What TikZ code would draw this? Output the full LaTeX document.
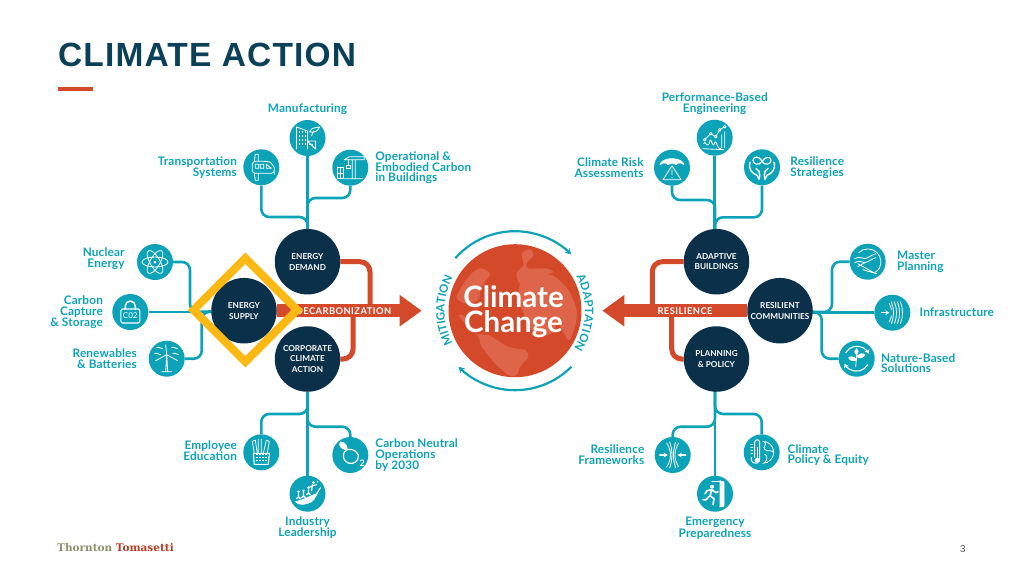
\documentclass[tikz,border=0pt]{standalone}
\usepackage{fontspec}
\setmainfont{Lato}
\newfontfamily\titlefont{Liberation Sans}
\newfontfamily\logofont{DejaVu Serif}
\usepackage{tikz}
\usetikzlibrary{arrows.meta, positioning, calc, backgrounds, shapes.geometric, decorations.text}

\definecolor{navy}{HTML}{0B3049}
\definecolor{titleblue}{HTML}{0A4058}
\definecolor{aqua}{HTML}{0CA3B9}
\definecolor{brick}{HTML}{D4492A}
\definecolor{land}{HTML}{DE6549}
\definecolor{gold}{HTML}{FDB913}

\tikzset{
	iconline/.style = {draw=white, line width=.8pt, line cap=round, line join=round},
	pics/atomicon/.style = {code={
		\draw[iconline] (0,0) ellipse[x radius=13, y radius=5];
		\draw[iconline, rotate=60] (0,0) ellipse[x radius=13, y radius=5];
		\draw[iconline, rotate=-60] (0,0) ellipse[x radius=13, y radius=5];
		\fill[white] (0,0) circle (1.5);
	}},
	pics/lockicon/.style = {code={
		\draw[iconline, line width=1.5pt] (-5,3) -- (-5,6) arc[start angle=180, end angle=0, radius=5] -- (5,3);
		\draw[iconline, line width=1.1pt, rounded corners=1.5] (-9.5,-11) rectangle (9.5,3);
		\node[text=white, font=\fontsize{8}{8}\selectfont, inner sep=0] (cotwo) at (0,-4) {C02};
	}},
	pics/windicon/.style = {code={
		\draw[iconline] (-1,-13) -- (0,4) -- (1,-13) (-5,-13) -- (5,-13);
		\draw[iconline] (0,4) -- (-1,14) (0,4) -- (-11,-2) (0,4) -- (11,-2);
		\draw[iconline] (-10,11) .. controls (-7,13) and (-6,9) .. (-4,10) (5,11) .. controls (8,13) and (9,9) .. (11,10) (-12,5) .. controls (-9,7) and (-8,3) .. (-6,4) (6,5) .. controls (9,7) and (10,3) .. (12,4);
	}},
	pics/buildingicon/.style = {code={
		\draw[iconline] (-11,-11) -- (-11,11) -- (0,7) -- (0,-11) (0,-3) -- (8,-3) -- (8,-11) -- cycle;
		\foreach \wx in {-8,-5,-2} \foreach \wy in {-6,-2,2,6}
			\fill[white] (\wx-.8,\wy-.8) rectangle ++(1.7,1.7);
		\foreach \wx in {2.5,5} \fill[white] (\wx-.7,-7) rectangle ++(1.5,1.5);
		\draw[iconline] (2,6) .. controls (4,11) and (8,10) .. (12,11) .. controls (11,7) and (7,5) .. (2,6) (4,2) -- (6,7);
	}},
	pics/trainicon/.style = {code={
		\draw[iconline, rounded corners=3] (-9,6) -- (5,6) .. controls (10,5) and (13,0) .. (13,-4) -- (13,-6) -- (-9,-6) -- cycle;
		\draw[iconline] (-7,6) -- (-6,13) -- (-3,13) -- (-3,6) (-7,-6) -- (-6,-13) -- (-3,-13) -- (-3,-6);
		\draw[iconline] (-6,-1) rectangle (-2.5,3) (-1,-1) rectangle (2.5,3) (5,3) -- (10,-1) -- (5,-1) -- cycle;
	}},
	pics/craneicon/.style = {code={
		\draw[iconline] (2,-11) -- (2,8) (5,-11) -- (5,8) (-6,-11) -- (12,-11) (-6,8) -- (14,8) -- (14,11) -- (-1,11) -- (-6,8);
		\draw[iconline] (-2,8) -- (-2,2) (-4,2) rectangle (0,-1);
		\draw[iconline] (-13,-11) rectangle (-7,0) (-13,-5.5) -- (-7,-5.5) (-10,-11) -- (-10,0);
	}},
	pics/charticon/.style = {code={
		\draw[iconline] (-10,-2) -- (-4,4) -- (1,1) -- (5,8) -- (10,11);
		\foreach \dotx/\doty in {-10/-2,-4/4,1/1,5/8,10/11}
			\filldraw[iconline, fill=aqua] (\dotx,\doty) circle (1.3);
		\draw[iconline] (-11,-6) .. controls (-10,-1) and (-7,-13) .. (-5,-4) .. controls (-4,3) and (-2,-13) .. (0,-5) .. controls (1,0) and (3,-13) .. (6,-11) (7,-10) -- (7,3) (10,-10) -- (10,6) (-12,-11) -- (9,-12);
	}},
	pics/umbrellaicon/.style = {code={
		\filldraw[iconline, fill=white] (-12,3) .. controls (-10,11) and (10,11) .. (12,3) .. controls (9,5.5) and (6,5.5) .. (4,3) .. controls (2,5) and (-2,5) .. (-4,3) .. controls (-6,5.5) and (-9,5.5) .. (-12,3);
		\draw[iconline] (0,2) -- (-9,-12) -- (9,-12) -- cycle (0,-2) -- (0,-7) (0,-9.5) -- (0,-10);
	}},
	pics/handsicon/.style = {code={
		\draw[iconline, line width=1.2pt] (0,6) .. controls (-3,12) and (-9,11) .. (-9,7) .. controls (-9,3) and (-3,1) .. (0,6) .. controls (3,11) and (9,11) .. (9,7) .. controls (9,3) and (3,1) .. (0,6);
		\draw[iconline, line width=1.4pt] (-12,5) .. controls (-14,-2) and (-10,-6) .. (-5,-8) -- (-3,-12) (-3,-4) -- (-6,-1) (-3,-4) .. controls (-2,-7) and (-2,-9) .. (-3,-12);
		\draw[iconline, line width=1.4pt] (12,5) .. controls (14,-2) and (10,-6) .. (5,-8) -- (3,-12) (3,-4) -- (6,-1) (3,-4) .. controls (2,-7) and (2,-9) .. (3,-12);
	}},
	pics/planicon/.style = {code={
		\draw[iconline] (-9,9) arc[start angle=135, end angle=-30, radius=13];
		\draw[iconline] (12,-6) arc[start angle=-30, end angle=-60, radius=13];
		\draw[iconline] (-13,3) .. controls (-8,7) and (-4,1) .. (0,4) .. controls (3,6) and (5,7) .. (8,8);
		\draw[iconline] (-13,-1) .. controls (-8,3) and (-4,-3) .. (0,0) .. controls (3,2) and (5,3) .. (8,4);
		\draw[iconline] (-10,-2) -- (8,-12) (-5,-8) -- (9,-12) (-10,-5) -- (-3,-1);
	}},
	pics/wallicon/.style = {code={
		\draw[iconline, line width=1.2pt, -{Stealth[length=4pt,width=5pt]}] (-11,0) -- (-3,0);
		\foreach \wx in {0,3,6,9}
			\draw[iconline] (\wx-1,11) .. controls (\wx+2,4) and (\wx+2,-4) .. (\wx-1,-11);
		\draw[iconline] (-3,9) .. controls (-1,5) and (-1,4) .. (-1,3) (-3,-9) .. controls (-1,-5) and (-1,-4) .. (-1,-3);
	}},
	pics/planticon/.style = {code={
		\draw[iconline, line width=1.1pt, -{Stealth[length=4pt,width=5pt]}] (-11,6) arc[start angle=150, end angle=25, radius=13];
		\draw[iconline, line width=1.1pt, -{Stealth[length=4pt,width=5pt]}] (11,-6) arc[start angle=-30, end angle=-155, radius=13];
		\draw[iconline] (-1,-8) -- (0,4);
		\filldraw[iconline, fill=white] (0,-1) .. controls (-3,3) and (-7,2) .. (-8,1) .. controls (-7,-2) and (-3,-3) .. (0,-1);
		\filldraw[iconline, fill=white] (0,2) .. controls (3,6) and (7,5) .. (8,4) .. controls (7,1) and (3,0) .. (0,2);
		\filldraw[iconline, fill=white] (0,4) .. controls (-3,6) and (-2,9) .. (0,10) .. controls (2,9) and (2,6) .. (0,4);
	}},
	pics/pinchicon/.style = {code={
		\draw[iconline] (-6,12) .. controls (-1,4) and (-1,-4) .. (-6,-12) (6,12) .. controls (1,4) and (1,-4) .. (6,-12);
		\draw[iconline] (-3,13) .. controls (0,4) and (0,-4) .. (-3,-13) (3,13) .. controls (0,4) and (0,-4) .. (3,-13);
		\draw[iconline, line width=1.2pt, -{Stealth[length=4pt,width=5pt]}] (-13,0) -- (-5,0);
		\draw[iconline, line width=1.2pt, -{Stealth[length=4pt,width=5pt]}] (13,0) -- (5,0);
	}},
	pics/thermoicon/.style = {code={
		\draw[iconline, line width=1pt] (-7,-5) -- (-7,10) arc[start angle=180, end angle=0, radius=2.5] -- (-2,-5) arc[start angle=20, end angle=-200, radius=4.5];
		\fill[white] (-4.5,-8) circle (2.5);
		\draw[iconline] (-4.5,-8) -- (-4.5,5);
		\draw[iconline] (-11,8) -- (-9,8) (-11,5) -- (-9,5) (-11,2) -- (-9,2) (-11,-1) -- (-9,-1);
		\draw[iconline] (1,11) arc[start angle=90, end angle=-90, radius=11] (2,11) .. controls (7,8) and (0,5) .. (3,3) .. controls (5,0) and (10,3) .. (12,0) (3,-2) .. controls (6,-3) and (6,-8) .. (3,-10);
	}},
	pics/exiticon/.style = {code={
		\draw[iconline, line width=1.1pt] (-3,12) -- (8,12) -- (8,-13) -- (5,-13);
		\filldraw[iconline, fill=white] (5,13) -- (9,11) -- (9,-12) -- (5,-13) -- cycle;
		\fill[white] (-3,7) circle (2);
		\draw[iconline, line width=1.6pt] (-3,4) -- (-5,-2) -- (-1,-5) -- (-2,-11) (-5,-2) -- (-9,-6) -- (-12,-6) (-3,4) -- (1,1) -- (3,2) (-3,4) -- (-8,3) -- (-10,0);
	}},
	pics/cupicon/.style = {code={
		\draw[iconline, line width=1.1pt] (-8,-1) -- (8,-1) -- (7,-12) -- (-7,-12) -- cycle;
		\foreach \wx in {-4,-1,2,5} \foreach \wy in {-9,-6,-3}
			\fill[white] (\wx-.9,\wy) rectangle ++(1.7,1.5);
		\draw[iconline] (-7,-1) -- (-9,11) -- (-6,12) -- (-4,-1) (-3,-1) -- (-3,13) (0,-1) -- (0,13) (2,-1) -- (5,12) -- (8,11) -- (6,-1);
	}},
	pics/neutralicon/.style = {code={
		\draw[iconline, line width=1.2pt] (-6,3) .. controls (-3,8) and (6,6) .. (8,0) .. controls (9,-6) and (3,-10) .. (-2,-8) .. controls (-7,-6) and (-8,-1) .. (-6,3);
		\filldraw[iconline, fill=white] (-3,5) .. controls (-9,6) and (-12,9) .. (-10,13) .. controls (-5,13) and (-3,9) .. (-3,5);
		\node[text=white, font=\bfseries\fontsize{9}{9}\selectfont, inner sep=0] (subtwo) at (12,-8) {2};
	}},
	pics/climbicon/.style = {code={
		\filldraw[iconline, fill=white] (-12,-8) .. controls (-6,-7) and (4,-2) .. (9,0) -- (13,6) .. controls (10,2) and (8,-5) .. (4,-8) .. controls (-2,-11) and (-8,-12) .. (-12,-8);
		\foreach \manx/\many in {-9/-5,-4/-4,1/-1} {
			\fill[white] (\manx,\many+7) circle (1.4);
			\draw[iconline, line width=1.2pt] (\manx,\many+5) -- (\manx,\many+1) (\manx-2,\many) -- (\manx,\many+2) -- (\manx+2,\many);
		}
		\fill[white] (6,11) circle (1.5);
		\draw[iconline, line width=1.2pt] (5,9) -- (4,3) (5,8) -- (9,9) (5,8) -- (1,6);
		\fill[white] (10,12) circle (.8);
	}},
	hubnode/.style = {circle, fill=navy, text=white, minimum size=65.5, inner sep=0, align=center,
		font=\bfseries\fontsize{8.2}{10.7}\selectfont},
	topic/.style = {circle, fill=aqua, minimum size=36, inner sep=0},
	topiclabel/.style = {text=aqua, inner sep=0, font=\bfseries\fontsize{11.8}{10.8}\selectfont\addfontfeature{LetterSpace=1.2}},
	branch/.style = {draw=aqua, line width=2.6pt, rounded corners=8},
	redbranch/.style = {draw=brick, line width=5pt, rounded corners=10},
	bigarrow/.style = {draw=brick, line width=12.5pt, -{Triangle[length=22pt,width=30pt,fill=brick]}},
	arrowtext/.style = {text=white, inner sep=0, font=\bfseries\fontsize{9.3}{10}\selectfont\addfontfeature{LetterSpace=5}},
	cycarrow/.style = {draw=aqua, line width=2.2pt, -{Stealth[length=6pt,width=6.5pt]}},
	ringtext/.style = {decorate, decoration={text along path, text align={fit to path},
		text color=aqua, text={|\bfseries\fontsize{11.5}{12}\selectfont|#1}}}
}

\begin{document}
\begin{tikzpicture}[x=1pt, y=1pt]
	\useasboundingbox (0,0) rectangle (1024,-576);

	\node[text=titleblue, anchor=west, inner sep=0, font=\titlefont\bfseries\fontsize{33.5}{34}\selectfont\addfontfeature{LetterSpace=3.4}] (title) at (58,-55) {CLIMATE ACTION};
	\fill[brick] (58,-87) rectangle (93,-90.5);

	% the globe
	\node[circle, fill=brick, minimum size=133, inner sep=0] (globe) at (515,-310.7) {};
	\begin{scope}
		\clip (515,-310.7) circle (66.5);
		\begin{scope}[shift={(515,-310.7)}, x=.3333pt, y=-.3333pt]
			\fill[land] plot[smooth cycle] coordinates {(-150,-87) (-125,-117) (-100,-127) (-75,-112) (-90,-87) (-105,-62) (-110,-32) (-150,-22) (-175,-42)};
			\fill[land] plot[smooth cycle] coordinates {(20,-172) (45,-184) (55,-167) (35,-142) (40,-127) (90,-127) (115,-117) (90,-107) (50,-102) (15,-82) (5,-112) (25,-137)};
			\fill[land] plot[smooth cycle] coordinates {(15,-82) (50,-102) (110,-107) (160,-62) (185,-2) (180,48) (160,88) (130,38) (110,68) (60,73) (15,-22)};
			\fill[land] plot[smooth cycle] coordinates {(-170,13) (-150,18) (-120,68) (-80,73) (-20,108) (30,118) (40,138) (15,168) (5,193) (-20,193) (-60,158) (-100,108) (-110,78) (-150,38)};
		\end{scope}
	\end{scope}
	\node[text=white, inner sep=0, align=center, font=\bfseries\fontsize{29.5}{25}\selectfont] (globetext) at (513.5,-312) {Climate\\Change};

	% hubs
	\node[hubnode] (demand) at (307.5,-261.7) {ENERGY\\DEMAND};
	\node[hubnode] (supply) at (244,-310.7) {ENERGY\\SUPPLY};
	\node[hubnode] (corporate) at (307.5,-359) {CORPORATE\\CLIMATE\\ACTION};
	\node[hubnode] (adaptive) at (716.5,-261.7) {ADAPTIVE\\BUILDINGS};
	\node[hubnode] (communities) at (780,-310.7) {RESILIENT\\COMMUNITIES};
	\node[hubnode] (planning) at (716.5,-359) {PLANNING\\\& POLICY};

	% topics
	\node[topic] (manufacturing) at (307.5,-138) {};
	\node[topic] (transport) at (261.3,-167.3) {};
	\node[topic] (operational) at (350.3,-167.7) {};
	\node[topic] (nuclear) at (155,-262) {};
	\node[topic] (capture) at (130.3,-312) {};
	\node[topic] (renewables) at (166.7,-358.7) {};
	\node[topic] (employee) at (261.3,-452.3) {};
	\node[topic] (neutral) at (350.3,-455) {};
	\node[topic] (industry) at (307.5,-493.7) {};
	\node[topic] (performance) at (714.7,-137.7) {};
	\node[topic] (risk) at (672,-167.7) {};
	\node[topic] (strategies) at (762,-167.3) {};
	\node[topic] (master) at (867.7,-261.7) {};
	\node[topic] (infrastructure) at (892.3,-312.7) {};
	\node[topic] (nature) at (856.7,-358.7) {};
	\node[topic] (frameworks) at (672.7,-455) {};
	\node[topic] (policy) at (761.7,-452.3) {};
	\node[topic] (emergency) at (715,-493.7) {};

	\pic at (manufacturing) {buildingicon};
	\pic at (transport) {trainicon};
	\pic at (operational) {craneicon};
	\pic at (nuclear) {atomicon};
	\pic at (capture) {lockicon};
	\pic at (renewables) {windicon};
	\pic at (employee) {cupicon};
	\pic at (neutral) {neutralicon};
	\pic at (industry) {climbicon};
	\pic at (performance) {charticon};
	\pic at (risk) {umbrellaicon};
	\pic at (strategies) {handsicon};
	\pic at (master) {planicon};
	\pic at (infrastructure) {wallicon};
	\pic at (nature) {planticon};
	\pic at (frameworks) {pinchicon};
	\pic at (policy) {thermoicon};
	\pic at (emergency) {exiticon};

	% labels
	\node[topiclabel, above=5pt of manufacturing] (manufacturinglabel) {Manufacturing};
	\node[topiclabel, left=6pt of transport, align=right] (transportlabel) {Transportation\\Systems};
	\node[topiclabel, right=6.7pt of operational, align=left] (operationallabel) {Operational \&\\Embodied Carbon\\in Buildings};
	\node[topiclabel, left=12pt of nuclear, align=right, yshift=3pt] (nuclearlabel) {Nuclear\\Energy};
	\node[topiclabel, left=9pt of capture, align=right] (capturelabel) {Carbon\\Capture\\\& Storage};
	\node[topiclabel, left=11.5pt of renewables, align=right] (renewableslabel) {Renewables\\\& Batteries};
	\node[topiclabel, left=6pt of employee, align=right, yshift=2pt] (employeelabel) {Employee\\Education};
	\node[topiclabel, right=6.7pt of neutral, align=left] (neutrallabel) {Carbon Neutral\\Operations\\by 2030};
	\node[topiclabel, below=4.5pt of industry, align=center] (industrylabel) {Industry\\Leadership};
	\node[topiclabel, above=5pt of performance, align=center] (performancelabel) {Performance-Based\\Engineering};
	\node[topiclabel, left=10pt of risk, align=right] (risklabel) {Climate Risk\\Assessments};
	\node[topiclabel, right=10pt of strategies, align=left] (strategieslabel) {Resilience\\Strategies};
	\node[topiclabel, right=11pt of master, align=left] (masterlabel) {Master\\Planning};
	\node[topiclabel, right=9pt of infrastructure] (infrastructurelabel) {Infrastructure};
	\node[topiclabel, right=6pt of nature, align=left, yshift=-4.5pt] (naturelabel) {Nature-Based\\Solutions};
	\node[topiclabel, left=10pt of frameworks, align=right] (frameworkslabel) {Resilience\\Frameworks};
	\node[topiclabel, right=7.5pt of policy, align=left, yshift=-2.7pt] (policylabel) {Climate\\Policy \& Equity};
	\node[topiclabel, below=4.5pt of emergency, align=center] (emergencylabel) {Emergency\\Preparedness};

	\coordinate (decarbtip) at (421.7,-310.7);
	\coordinate (resiltip) at (602.3,-310.7);
	\coordinate (demandjoin) at (370,-310.7);
	\coordinate (corporatejoin) at (353,-310.7);
	\coordinate (adaptivejoin) at (652.3,-310.7);
	\coordinate (planningjoin) at (671.7,-310.7);
	\coordinate (transportjoin) at (307.5,-217);
	\coordinate (operationaljoin) at (307.5,-198);
	\coordinate (employeejoin) at (307.5,-414);
	\coordinate (neutraljoin) at (307.5,-426.7);
	\coordinate (riskjoin) at (715,-200);
	\coordinate (strategiesjoin) at (715,-217.3);
	\coordinate (frameworksjoin) at (715,-426.7);
	\coordinate (policyjoin) at (715,-414);
	\coordinate (nuclearjoin) at (190,-312);
	\coordinate (renewablesjoin) at (201.7,-312);
	\coordinate (masterjoin) at (832,-312);
	\coordinate (naturejoin) at (821.7,-312);

	\begin{pgfonlayer}{background}
		\draw[bigarrow] (supply) -- (decarbtip);
		\draw[bigarrow] (communities) -- (resiltip);
		\draw[redbranch] (demand) -| (demandjoin);
		\draw[redbranch] (corporate) -| (corporatejoin);
		\draw[redbranch] (adaptive) -| (adaptivejoin);
		\draw[redbranch] (planning) -| (planningjoin);

		\draw[branch] (manufacturing) -- (demand);
		\draw[branch] (transport) |- (transportjoin) -- (demand);
		\draw[branch] (operational) |- (operationaljoin) -- (demand);
		\draw[branch] (industry) -- (corporate);
		\draw[branch] (employee) |- (employeejoin) -- (corporate);
		\draw[branch] (neutral) |- (neutraljoin) -- (corporate);
		\draw[branch] (capture) -- (capture -| supply);
		\draw[branch] (nuclear) -| (nuclearjoin) -- (supply);
		\draw[branch] (renewables) -| (renewablesjoin) -- (supply);
		\draw[branch] (performance) -- (performance |- adaptive);
		\draw[branch] (risk) |- (riskjoin) -- (riskjoin |- adaptive);
		\draw[branch] (strategies) |- (strategiesjoin) -- (strategiesjoin |- adaptive);
		\draw[branch] (emergency) -- (emergency |- planning);
		\draw[branch] (frameworks) |- (frameworksjoin) -- (frameworksjoin |- planning);
		\draw[branch] (policy) |- (policyjoin) -- (policyjoin |- planning);
		\draw[branch] (infrastructure) -- (infrastructure -| communities);
		\draw[branch] (master) -| (masterjoin) -- (masterjoin -| communities);
		\draw[branch] (nature) -| (naturejoin) -- (naturejoin -| communities);
	\end{pgfonlayer}

	\node[arrowtext] (decarbtext) at (343.5,-310.7) {DECARBONIZATION};
	\node[arrowtext] (resiltext) at (685,-310.7) {RESILIENCE};

	\node[diamond, draw=gold, line width=8pt, minimum size=107, inner sep=0] (highlight) at (245.3,-310) {};

	% ring round the globe
	\draw[cycarrow] ($(globe)+(138.7:79.5)$) arc[start angle=138.7, end angle=45, radius=79.5];
	\draw[cycarrow] ($(globe)+(-44.7:79.5)$) arc[start angle=-44.7, end angle=-135.3, radius=79.5];
	\path[ringtext=MITIGATION] ($(globe)+(208:70.5)$) arc[start angle=208, end angle=152, radius=70.5];
	\path[ringtext=ADAPTATION] ($(globe)+(29:70)$) arc[start angle=29, end angle=-29, radius=70];

	\node[anchor=west, inner sep=0, font=\logofont\bfseries\fontsize{10.5}{11}\selectfont] (logo) at (57,-548) {\textcolor{gray!75!olive}{Thornton} \textcolor{brick!85!black}{Tomasetti}};
	\node[text=black!65, inner sep=0, font=\titlefont\fontsize{10}{10}\selectfont] (pagenumber) at (963,-549) {3};
\end{tikzpicture}
\end{document}
